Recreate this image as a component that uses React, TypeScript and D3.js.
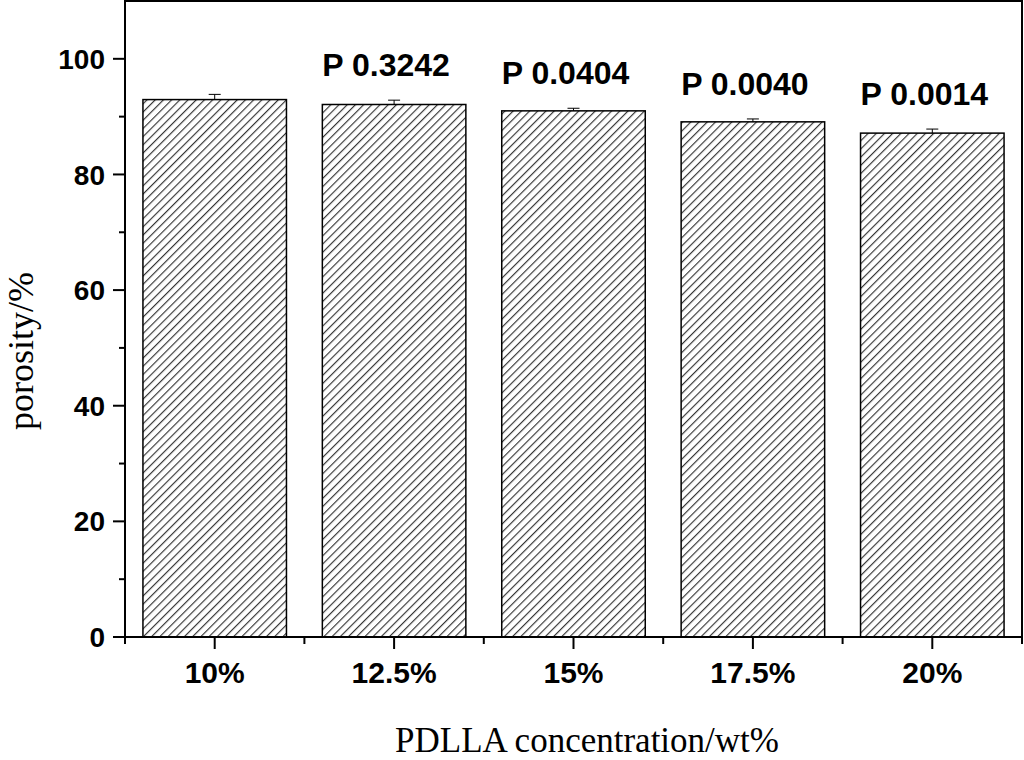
import React from "react";
import * as d3 from "d3";

const categories = ["10%", "12.5%", "15%", "17.5%", "20%"];
const porosity = [92.95, 92.1, 91.0, 89.1, 87.15];
const errors = [0.9, 0.75, 0.45, 0.5, 0.7];
const pLabels = ["", "P 0.3242", "P 0.0404", "P 0.0040", "P 0.0014"];
const yTicks = [0, 20, 40, 60, 80, 100];
const yMinorTicks = [10, 30, 50, 70, 90];

const W = 1024;
const H = 760;
const left = 125;
const right = 1022;
const top = 1;
const bottom = 637;

export default function App() {
  const x = d3
    .scaleBand<string>()
    .domain(categories)
    .range([left, right])
    .paddingInner(0.2)
    .paddingOuter(0.1);
  const y = d3.scaleLinear().domain([0, 110]).range([bottom, top]);
  const step = x.step();
  const bw = x.bandwidth();
  const boundaries = d3.range(categories.length + 1).map((i) => left + i * step);

  const sans = "'Liberation Sans', Arial, sans-serif";
  const serif = "'Liberation Serif', 'Times New Roman', serif";
  const hs = 5.8;

  return (
    <svg
      width={W}
      height={H}
      viewBox={`0 0 ${W} ${H}`}
      style={{ position: "absolute", left: 0, top: 0, background: "#fff" }}
    >
      <defs>
        <pattern
          id="hatch"
          patternUnits="userSpaceOnUse"
          width={hs}
          height={hs}
          patternTransform="rotate(45)"
        >
          <rect width={hs} height={hs} fill="#fff" />
          <line x1={0.6} y1={0} x2={0.6} y2={hs} stroke="#2a2a2a" strokeWidth={1.1} />
        </pattern>
      </defs>

      {/* bars */}
      {categories.map((c, i) => {
        const x0 = x(c)!;
        const cx = x0 + bw / 2;
        const yt = y(porosity[i]);
        const ye = y(porosity[i] + errors[i]);
        return (
          <g key={c}>
            <rect
              x={x0}
              y={yt}
              width={bw}
              height={bottom - yt}
              fill="url(#hatch)"
              stroke="#000"
              strokeWidth={1.5}
            />
            <line x1={cx} x2={cx} y1={yt} y2={ye} stroke="#000" strokeWidth={1} />
            <line x1={cx - 6} x2={cx + 6} y1={ye} y2={ye} stroke="#000" strokeWidth={1} />
            {pLabels[i] && (
              <text
                x={cx - 8}
                y={ye - 24}
                textAnchor="middle"
                fontFamily={sans}
                fontWeight="bold"
                fontSize={32}
                fill="#000"
              >
                {pLabels[i]}
              </text>
            )}
          </g>
        );
      })}

      {/* frame */}
      <rect
        x={left}
        y={top}
        width={right - left}
        height={bottom - top}
        fill="none"
        stroke="#000"
        strokeWidth={2}
      />

      {/* y ticks */}
      {yTicks.map((t) => (
        <g key={t}>
          <line x1={left - 12} x2={left} y1={y(t)} y2={y(t)} stroke="#000" strokeWidth={2} />
          <text
            x={left - 20}
            y={y(t)}
            dy="0.36em"
            textAnchor="end"
            fontFamily={sans}
            fontWeight="bold"
            fontSize={28}
            fill="#000"
          >
            {t}
          </text>
        </g>
      ))}
      {yMinorTicks.map((t) => (
        <line key={t} x1={left - 6} x2={left} y1={y(t)} y2={y(t)} stroke="#000" strokeWidth={2} />
      ))}

      {/* x ticks */}
      {categories.map((c) => {
        const cx = x(c)! + bw / 2;
        return (
          <g key={c}>
            <line x1={cx} x2={cx} y1={bottom} y2={bottom + 12} stroke="#000" strokeWidth={2} />
            <text
              x={cx}
              y={bottom + 46}
              textAnchor="middle"
              fontFamily={sans}
              fontWeight="bold"
              fontSize={30}
              fill="#000"
            >
              {c}
            </text>
          </g>
        );
      })}
      {boundaries.map((b, i) => (
        <line key={i} x1={b} x2={b} y1={bottom} y2={bottom + 7} stroke="#000" strokeWidth={2} />
      ))}

      {/* axis titles */}
      <text
        x={587}
        y={752}
        textAnchor="middle"
        fontFamily={serif}
        fontSize={35}
        fill="#000"
      >
        PDLLA concentration/wt%
      </text>
      <text
        transform={`translate(33, 351) rotate(-90)`}
        textAnchor="middle"
        fontFamily={serif}
        fontSize={36}
        fill="#000"
      >
        porosity/%
      </text>
    </svg>
  );
}
